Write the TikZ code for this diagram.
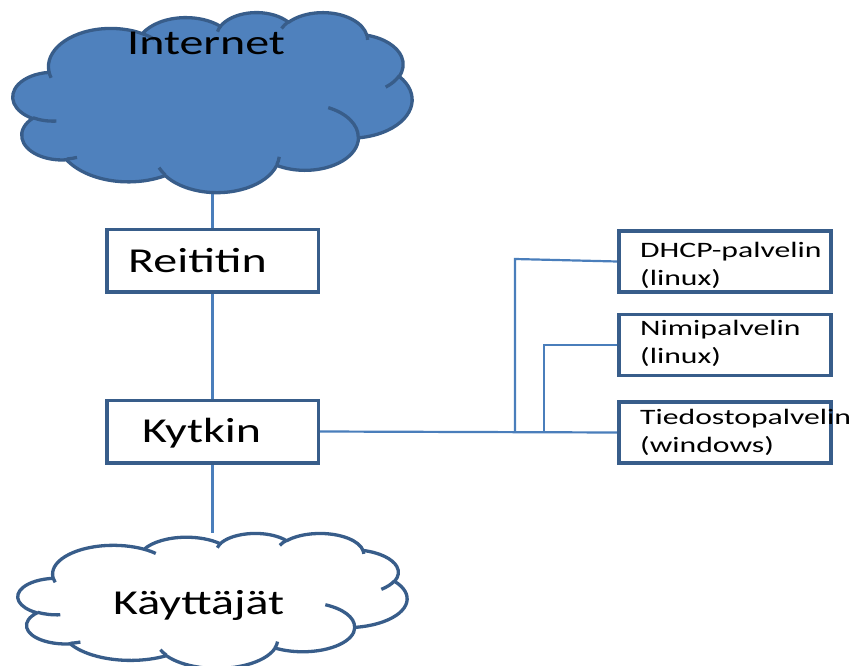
\documentclass[tikz,border=0pt]{standalone}
\usepackage{fontspec}
\setmainfont{Carlito}
\newfontfamily\labfont{Carlito}[FakeStretch=1.37]
\newfontfamily\srvfont{Carlito}[FakeStretch=1.44]
\definecolor{cloudfill}{HTML}{4F81BD}
\definecolor{edgeblue}{HTML}{385D8A}
\definecolor{linkblue}{HTML}{4A7EBB}
\pgfdeclarelayer{background}
\pgfsetlayers{background,main}

\newcommand\cloudarc[4]{%
  \pgfextra{%
    \pgfmathparse{atan2(#1*sin(#3),#2*cos(#3))}\xdef\cloudts{\pgfmathresult}%
    \pgfmathparse{atan2(#1*sin(#3+#4),#2*cos(#3+#4))}\xdef\cloudte{\pgfmathresult}%
    \pgfmathparse{mod(\cloudte-\cloudts+720,360)}\xdef\cloudtd{\pgfmathresult}}%
  arc[x radius=#1, y radius=#2, start angle=\cloudts, delta angle=\cloudtd]}

\newcommand\pptcloud[5]{%
  \pgfmathsetmacro\cloudx{#3/43.2}\pgfmathsetmacro\cloudy{-#4/43.2}%
  \begin{scope}[shift={(#1,#2)}, x=\cloudx pt, y=\cloudy pt]
    \draw[#5] (3.9,14.37) \cloudarc{6.753}{9.19}{-190.4875}{123.7805}
      \cloudarc{5.333}{7.267}{-144.1024}{89.9452}
      \cloudarc{4.365}{5.945}{-145.8079}{99.723}
      \cloudarc{4.857}{6.595}{-130.9861}{117.2417}
      \cloudarc{5.333}{7.273}{-78.7089}{109.0269}
      \cloudarc{6.775}{9.22}{-46.2673}{130.269}
      \cloudarc{5.785}{7.867}{0.625}{114.0333}
      \cloudarc{6.752}{9.215}{22.4516}{115.1726}
      \cloudarc{7.72}{10.543}{66.2426}{75.711}
      \cloudarc{4.36}{5.918}{-274.9421}{146.7356}
      \cloudarc{4.345}{5.945}{-246.8285}{152.5189} -- cycle;
    \draw[#5, fill=none]
      (4.693,26.177) \cloudarc{4.345}{5.945}{86.742}{26.4295}
      (6.928,34.899) \cloudarc{4.36}{5.918}{73.6105}{11.4475}
      (16.478,39.09) \cloudarc{6.752}{9.215}{137.6242}{14.0811}
      (28.827,34.751) \cloudarc{6.752}{9.215}{6.4533}{15.9984}
      (34.129,22.954) \cloudarc{5.785}{7.867}{-70.2924}{70.9174}
      (41.798,15.354) \cloudarc{5.333}{7.273}{30.318}{27.7515}
      (38.324,5.426) \cloudarc{4.857}{6.595}{-13.7443}{14.8589}
      (29.078,3.952) \cloudarc{4.857}{6.595}{-149.1815}{18.1954}
      (22.141,4.72) \cloudarc{4.365}{5.945}{-163.4943}{17.6864}
      (14,5.192) \cloudarc{6.753}{9.19}{-66.707}{12.3194}
      (4.127,15.789) \cloudarc{6.753}{9.19}{157.6544}{11.8582};
  \end{scope}}

\newcommand\twoline[2]{\begin{tabular}[t]{@{}l@{}}#1\\#2\end{tabular}}

\begin{document}
\begin{tikzpicture}[x=1pt, y=-1pt,
    box/.style={draw=edgeblue, line width=3.5pt, fill=white, minimum width=211.5pt, minimum height=62.5pt, inner sep=0pt},
    srvbox/.style={box, minimum width=212pt, minimum height=61pt},
    area/.style={inner sep=0pt, minimum width=#1},
    lab/.style={anchor=base west, inner sep=0pt, font=\fontsize{35}{40}\selectfont\labfont},
    srvlab/.style={anchor=base west, inner sep=0pt, font=\fontsize{22}{28}\selectfont\srvfont},
    link/.style={draw=linkblue, line width=2.2pt},
    cloudline/.style={draw=edgeblue, line width=3.3pt, line join=round}]
		\useasboundingbox (0,0) rectangle (852,666);

		\node[area=399pt, minimum height=180pt] (internet) at (212.5,102) {};
		\pptcloud{13}{12}{399}{180}{cloudline, fill=cloudfill}
		\node[lab] (internettxt) at (127,55) {Internet};

		\node[box] (reititin) at (212.5,260.5) {};
		\node[lab] (reititintxt) at (128,272) {Reititin};

		\node[box] (kytkin) at (212.5,431.5) {};
		\node[lab] (kytkintxt) at (142,442) {Kytkin};

		\node[area=389pt, minimum height=135pt] (kayttajat) at (212.5,600.5) {};
		\pptcloud{18}{533}{389}{135}{cloudline, fill=white}
		\node[lab] (kayttajattxt) at (113,614) {Käyttäjät};

		\node[srvbox] (dhcp) at (725,261.5) {};
		\node[srvlab] (dhcptxt) at (640,258) {\twoline{DHCP-palvelin}{(linux)}};
		\node[srvbox] (nimi) at (725,345) {};
		\node[srvlab] (nimitxt) at (640,335) {\twoline{Nimipalvelin}{(linux)}};
		\node[srvbox] (tiedosto) at (725,432.5) {};
		\node[srvlab] (tiedostotxt) at (640,424) {\twoline{Tiedostopalvelin}{(windows)}};

		\coordinate (j1) at (515,259);
		\coordinate (j2) at (544,345);
		\begin{pgfonlayer}{background}
		\draw[link] (internet.south) -- (reititin.north);
		\draw[link] (reititin.south) -- (kytkin.north);
		\draw[link] (kytkin.south) -- (kayttajat.north);
		\draw[link] (kytkin.east) -- (tiedosto.west);
		\draw[link] (kytkin.east -| j1) -- (j1) -- (dhcp.west);
		\draw[link] (kytkin.east -| j2) -- (j2) -- (nimi.west);
		\end{pgfonlayer}
	\end{tikzpicture}
\end{document}
